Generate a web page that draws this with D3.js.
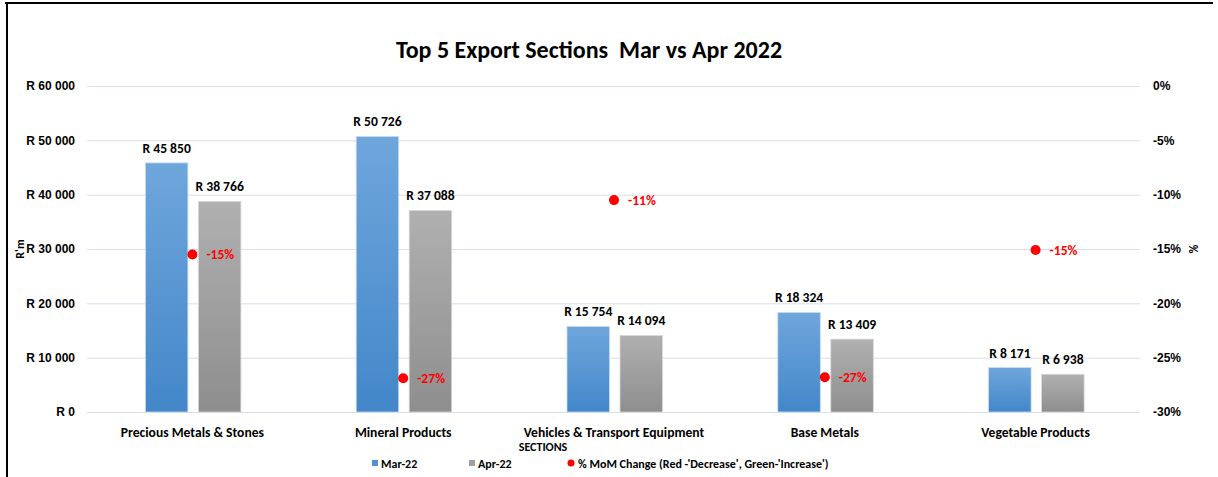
<!DOCTYPE html>
<meta charset="utf-8">
<style>
body { margin: 0; background: #fff; }
svg { display: block; font-family: Carlito, "Liberation Sans Narrow", "Open Sans", sans-serif; }
.grid line { stroke: #d6deea; stroke-width: 1px; }
.axis path, .axis line { display: none; }
.axis text { font-size: 12px; font-weight: bold; fill: #000; }
.lbl { font-size: 12px; font-weight: bold; }
.big { font-size: 13.6px; font-weight: bold; }
</style>
<svg width="1218" height="477"></svg>
<script src="https://cdn.jsdelivr.net/npm/d3@7"></script>
<script>

var sections = ["Precious Metals & Stones", "Mineral Products", "Vehicles & Transport Equipment", "Base Metals", "Vegetable Products"];
var mar22 = [45850, 50726, 15754, 18324, 8171];
var apr22 = [38766, 37088, 14094, 13409, 6938];
var momChange = [-15.5, -26.9, -10.5, -26.8, -15.1];
var momLabels = ["-15%", "-27%", "-11%", "-27%", "-15%"];
var leftTicks = [0, 10000, 20000, 30000, 40000, 50000, 60000];
var rightTicks = [0, -5, -10, -15, -20, -25, -30];

var svg = d3.select("svg"),
    margin = {top: 86, right: 77, bottom: 65, left: 87},
    width = svg.attr("width") - margin.left - margin.right,
    height = svg.attr("height") - margin.top - margin.bottom,
    g = svg.append("g").attr("transform", "translate(" + margin.left + "," + margin.top + ")");

// frame
svg.append("line").attr("x1", 5).attr("x2", 1213).attr("y1", 3).attr("y2", 3)
  .attr("stroke", "#000").attr("stroke-width", 2);
svg.append("line").attr("x1", 7).attr("x2", 7).attr("y1", 3).attr("y2", 477)
  .attr("stroke", "#000").attr("stroke-width", 2);

var defs = svg.append("defs");
function grad(id, top, bottom) {
  var lg = defs.append("linearGradient").attr("id", id)
    .attr("x1", 0).attr("y1", 0).attr("x2", 0).attr("y2", 1);
  lg.append("stop").attr("offset", "0%").attr("stop-color", top);
  lg.append("stop").attr("offset", "100%").attr("stop-color", bottom);
}
grad("gBlue", "#6fa6dc", "#4387c9");
grad("gGray", "#b0b0b0", "#8e8e8e");

var x = d3.scaleBand().domain(sections).range([0, width]),
    y = d3.scaleLinear().domain([0, 60000]).range([height, 0]),
    y2 = d3.scaleLinear().domain([-30, 0]).range([height, 0]);

var fmtR = function(v) { return "R " + d3.format(",")(v).replace(/,/g, " "); };

// gridlines
g.append("g").attr("class", "grid")
  .selectAll("line").data(leftTicks).enter().append("line")
  .attr("x1", 0).attr("x2", width - 1)
  .attr("y1", function(d) { return y(d) + 0.5; })
  .attr("y2", function(d) { return y(d) + 0.5; });

g.append("g").attr("class", "axis")
  .attr("transform", "translate(-12,0)")
  .call(d3.axisLeft(y).tickValues(leftTicks).tickSize(0).tickPadding(0).tickFormat(fmtR));

g.append("g").attr("class", "axis")
  .attr("transform", "translate(" + (width + 12) + ",0)")
  .call(d3.axisRight(y2).tickValues(rightTicks).tickSize(0).tickPadding(0).tickFormat(function(d) { return d + "%"; }));

// bars
var bw = 42.5;
var groups = g.selectAll(".sec").data(sections).enter().append("g")
  .attr("class", "sec")
  .attr("transform", function(d) { return "translate(" + (x(d) + x.bandwidth() / 2) + ",0)"; });

groups.append("rect")
  .attr("x", -47).attr("width", bw)
  .attr("y", function(d, i) { return y(mar22[i]); })
  .attr("height", function(d, i) { return height - y(mar22[i]); })
  .attr("fill", "url(#gBlue)").attr("stroke", "#c9dcf0").attr("stroke-width", 0.8);

groups.append("rect")
  .attr("x", 6).attr("width", bw)
  .attr("y", function(d, i) { return y(apr22[i]); })
  .attr("height", function(d, i) { return height - y(apr22[i]); })
  .attr("fill", "url(#gGray)").attr("stroke", "#d8d8d8").attr("stroke-width", 0.8);

groups.append("text").attr("class", "big")
  .attr("x", -47 + bw / 2).attr("y", function(d, i) { return y(mar22[i]) - 10; })
  .attr("text-anchor", "middle")
  .text(function(d, i) { return fmtR(mar22[i]); });

groups.append("text").attr("class", "big")
  .attr("x", 6 + bw / 2).attr("y", function(d, i) { return y(apr22[i]) - 10; })
  .attr("text-anchor", "middle")
  .text(function(d, i) { return fmtR(apr22[i]); });

// MoM change points
groups.append("circle")
  .attr("cx", 0).attr("cy", function(d, i) { return y2(momChange[i]); })
  .attr("r", 5).attr("fill", "#ff0000");

groups.append("text").attr("class", "big")
  .attr("x", 14).attr("y", function(d, i) { return y2(momChange[i]); })
  .attr("dy", "0.35em").attr("fill", "#ff0000")
  .text(function(d, i) { return momLabels[i]; });

// category labels
groups.append("text").attr("class", "big")
  .attr("y", height + 25).attr("text-anchor", "middle")
  .text(function(d) { return d; });

// titles
svg.append("text").attr("x", 589).attr("y", 58).attr("text-anchor", "middle")
  .attr("xml:space", "preserve").style("white-space", "pre")
  .style("font-size", "24px").style("font-weight", "bold")
  .text("Top 5 Export Sections  Mar vs Apr 2022");

svg.append("text").attr("transform", "translate(24,249) rotate(-90)")
  .attr("text-anchor", "middle").style("font-size", "12px").style("font-weight", "bold")
  .text("R'm");

svg.append("text").attr("transform", "translate(1189,249) rotate(90)")
  .attr("text-anchor", "middle").style("font-size", "12px").style("font-weight", "bold")
  .text("%");

svg.append("text").attr("x", 543).attr("y", 451).attr("text-anchor", "middle")
  .style("font-size", "12px").style("font-weight", "bold")
  .text("SECTIONS");

// legend
var legend = svg.append("g").attr("class", "lbl");
legend.append("rect").attr("x", 372).attr("y", 460).attr("width", 6).attr("height", 6).attr("fill", "#4f92d4");
legend.append("text").attr("x", 381).attr("y", 468).text("Mar-22");
legend.append("rect").attr("x", 469).attr("y", 460).attr("width", 6).attr("height", 6).attr("fill", "#a0a0a0");
legend.append("text").attr("x", 478).attr("y", 468).text("Apr-22");
legend.append("circle").attr("cx", 571).attr("cy", 463).attr("r", 3.5).attr("fill", "#ff0000");
legend.append("text").attr("x", 578).attr("y", 468).text("% MoM Change (Red -'Decrease', Green-'Increase')");

</script>
